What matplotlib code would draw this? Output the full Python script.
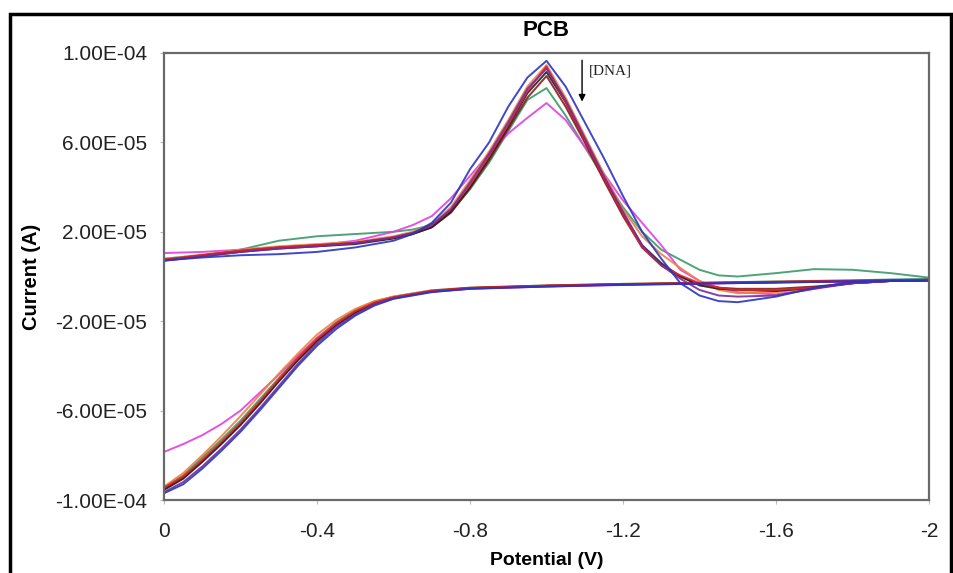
import matplotlib
matplotlib.use("Agg")
import matplotlib.pyplot as plt
from matplotlib.patches import Rectangle
from matplotlib.ticker import FixedLocator, FuncFormatter

# Potential grids (V)
v_fwd = [0, -0.05, -0.1, -0.15, -0.2, -0.25, -0.3, -0.35, -0.4, -0.45, -0.5,
         -0.55, -0.6, -0.7, -0.8, -1.0, -1.2, -1.4, -1.6, -1.8, -2.0]
v_rev = [-2.0, -1.9, -1.8, -1.7, -1.6, -1.5, -1.45, -1.4, -1.35, -1.3, -1.25,
         -1.2, -1.15, -1.1, -1.05, -1.0, -0.95, -0.9, -0.85, -0.8, -0.75, -0.7,
         -0.65, -0.6, -0.5, -0.4, -0.3, -0.2, -0.1, 0.0]

# Currents in units of 1e-5 A
blue_fwd = [-9.7, -9.3, -8.6, -7.8, -6.95, -6.0, -5.0, -4.0, -3.1, -2.35, -1.75,
            -1.3, -1.0, -0.7, -0.55, -0.45, -0.37, -0.32, -0.27, -0.22, -0.18]
blue_rev = [-0.2, -0.2, -0.25, -0.5, -0.9, -1.15, -1.1, -0.85, -0.3, 0.8, 2.0,
            3.6, 5.3, 6.9, 8.5, 9.65, 8.9, 7.6, 6.0, 4.8, 3.3, 2.4,
            1.9, 1.6, 1.3, 1.1, 1.0, 0.95, 0.85, 0.72]

purple_fwd = [-9.65, -9.2, -8.5, -7.7, -6.85, -5.9, -4.9, -3.9, -3.0, -2.25, -1.7,
              -1.25, -0.98, -0.68, -0.54, -0.44, -0.36, -0.31, -0.26, -0.21, -0.17]
purple_rev = [-0.17, -0.2, -0.3, -0.55, -0.85, -0.9, -0.85, -0.6, -0.1, 0.5, 1.4,
              2.9, 4.5, 6.2, 7.9, 9.3, 8.4, 6.9, 5.5, 4.2, 3.0, 2.3,
              1.95, 1.75, 1.5, 1.35, 1.25, 1.1, 0.9, 0.7]

black_fwd = [-9.55, -9.05, -8.3, -7.5, -6.65, -5.7, -4.7, -3.75, -2.9, -2.2, -1.62,
             -1.2, -0.95, -0.66, -0.52, -0.42, -0.35, -0.3, -0.25, -0.2, -0.15]
black_rev = [-0.15, -0.2, -0.3, -0.5, -0.65, -0.6, -0.55, -0.4, 0.0, 0.6, 1.4,
             2.8, 4.4, 6.1, 7.8, 9.15, 8.2, 6.7, 5.3, 4.0, 2.9, 2.2,
             1.9, 1.7, 1.45, 1.35, 1.25, 1.1, 0.9, 0.72]

red_fwd = [-9.45, -8.95, -8.2, -7.4, -6.55, -5.6, -4.6, -3.65, -2.8, -2.1, -1.55,
           -1.17, -0.93, -0.64, -0.51, -0.41, -0.34, -0.29, -0.24, -0.19, -0.15]
red_rev = [-0.15, -0.2, -0.3, -0.5, -0.6, -0.6, -0.5, -0.3, 0.05, 0.5, 1.3,
           2.8, 4.4, 6.1, 7.8, 9.4, 8.3, 6.8, 5.4, 4.1, 3.0, 2.3,
           1.95, 1.75, 1.5, 1.4, 1.3, 1.15, 0.95, 0.75]

darkred_fwd = [-9.5, -9.0, -8.25, -7.45, -6.6, -5.65, -4.65, -3.7, -2.85, -2.15, -1.6,
               -1.2, -0.95, -0.65, -0.52, -0.42, -0.35, -0.3, -0.25, -0.2, -0.15]
darkred_rev = [-0.15, -0.2, -0.3, -0.45, -0.55, -0.55, -0.5, -0.35, 0.0, 0.5, 1.3,
               2.7, 4.3, 6.0, 7.6, 8.97, 8.0, 6.6, 5.2, 3.95, 2.85, 2.2,
               1.9, 1.72, 1.5, 1.4, 1.3, 1.15, 0.95, 0.75]

orange_fwd = [-9.4, -8.8, -8.0, -7.15, -6.25, -5.3, -4.35, -3.45, -2.6, -1.95, -1.45,
              -1.1, -0.9, -0.62, -0.5, -0.4, -0.33, -0.28, -0.23, -0.18, -0.15]
orange_rev = [-0.15, -0.2, -0.3, -0.5, -0.7, -0.75, -0.6, -0.2, 0.38, 1.0, 1.8,
              3.0, 4.6, 6.3, 8.0, 9.46, 8.5, 7.0, 5.6, 4.3, 3.1, 2.35,
              2.0, 1.8, 1.55, 1.45, 1.35, 1.2, 0.98, 0.78]

green_fwd = [-9.45, -8.9, -8.1, -7.3, -6.45, -5.5, -4.55, -3.6, -2.75, -2.05, -1.5,
             -1.12, -0.9, -0.62, -0.5, -0.4, -0.33, -0.28, -0.22, -0.17, -0.1]
green_rev = [-0.05, 0.15, 0.3, 0.33, 0.15, 0.0, 0.05, 0.3, 0.75, 1.2, 2.0,
             3.1, 4.4, 5.8, 7.2, 8.43, 7.9, 6.5, 5.1, 3.9, 2.9, 2.3,
             2.1, 2.0, 1.9, 1.8, 1.6, 1.2, 0.95, 0.8]

magenta_fwd = [-7.85, -7.5, -7.1, -6.6, -6.0, -5.2, -4.4, -3.55, -2.75, -2.1, -1.6,
               -1.2, -0.95, -0.68, -0.55, -0.45, -0.38, -0.32, -0.27, -0.22, -0.18]
magenta_rev = [-0.15, -0.15, -0.2, -0.55, -0.8, -0.7, -0.5, -0.2, 0.3, 1.4, 2.4,
               3.4, 4.6, 5.8, 7.0, 7.76, 7.1, 6.4, 5.5, 4.5, 3.5, 2.7,
               2.3, 2.0, 1.6, 1.4, 1.3, 1.2, 1.1, 1.05]

series = [
    ("green", green_fwd, green_rev, "#3a9a6a"),
    ("magenta", magenta_fwd, magenta_rev, "#e040e0"),
    ("orange", orange_fwd, orange_rev, "#ee8040"),
    ("darkred", darkred_fwd, darkred_rev, "#8b1a1a"),
    ("black", black_fwd, black_rev, "#202020"),
    ("red", red_fwd, red_rev, "#e02525"),
    ("purple", purple_fwd, purple_rev, "#7a2a9a"),
    ("blue", blue_fwd, blue_rev, "#2a35c0"),
]

scale = 1e-5
x_ticks = [0, -0.4, -0.8, -1.2, -1.6, -2]
x_tick_labels = ["0", "-0.4", "-0.8", "-1.2", "-1.6", "-2"]
y_ticks = [1e-4, 6e-5, 2e-5, -2e-5, -6e-5, -1e-4]

plt.rcParams['font.family'] = ['Liberation Sans', 'DejaVu Sans']

fig = plt.figure(figsize=(9.54, 5.73), dpi=100)
ax = fig.add_axes([164/954, 1-500/573, (929-164)/954, (500-53)/573])

for name, fwd, rev, col in series:
    ax.plot(v_fwd, [c*scale for c in fwd], color=col, lw=1.4, alpha=0.9)
    ax.plot(v_rev, [c*scale for c in rev], color=col, lw=1.4, alpha=0.9)

ax.set_xlim(0, -2)
ax.set_ylim(-1e-4, 1e-4)
ax.xaxis.set_major_locator(FixedLocator(x_ticks))
ax.set_xticklabels(x_tick_labels)
ax.yaxis.set_major_locator(FixedLocator(y_ticks))
ax.yaxis.set_major_formatter(FuncFormatter(lambda v, p: "%.2E" % v))
ax.tick_params(axis='both', labelsize=15, colors='#222222', length=3,
               color='#bbbbbb', width=0.8)
ax.tick_params(axis='x', pad=13)
ax.tick_params(axis='y', pad=9)
for s in ax.spines.values():
    s.set_color('#6a6a6a')
    s.set_linewidth(1.6)

ax.set_title("PCB", fontsize=16, fontweight='bold', pad=12)
ax.set_xlabel("Potential (V)", fontsize=14, fontweight='bold', labelpad=8)
ax.set_ylabel("Current (A)", fontsize=14.5, fontweight='bold', labelpad=10)

ax.annotate("", xy=(-1.093, 7.7e-5), xytext=(-1.093, 9.8e-5),
            arrowprops=dict(arrowstyle='-|>', color='black', lw=1.0,
                            mutation_scale=10))
ax.text(-1.11, 9.2e-5, "[DNA]", fontsize=11, family=['Liberation Serif', 'DejaVu Serif'],
        ha='left', va='center', color='#222222')

fig.patches.append(Rectangle((10/954, -0.02), (951-10)/954, 1-14/573+0.02,
                             transform=fig.transFigure, fill=False,
                             edgecolor='black', lw=2.5))

fig.savefig("out.png", dpi=100)
